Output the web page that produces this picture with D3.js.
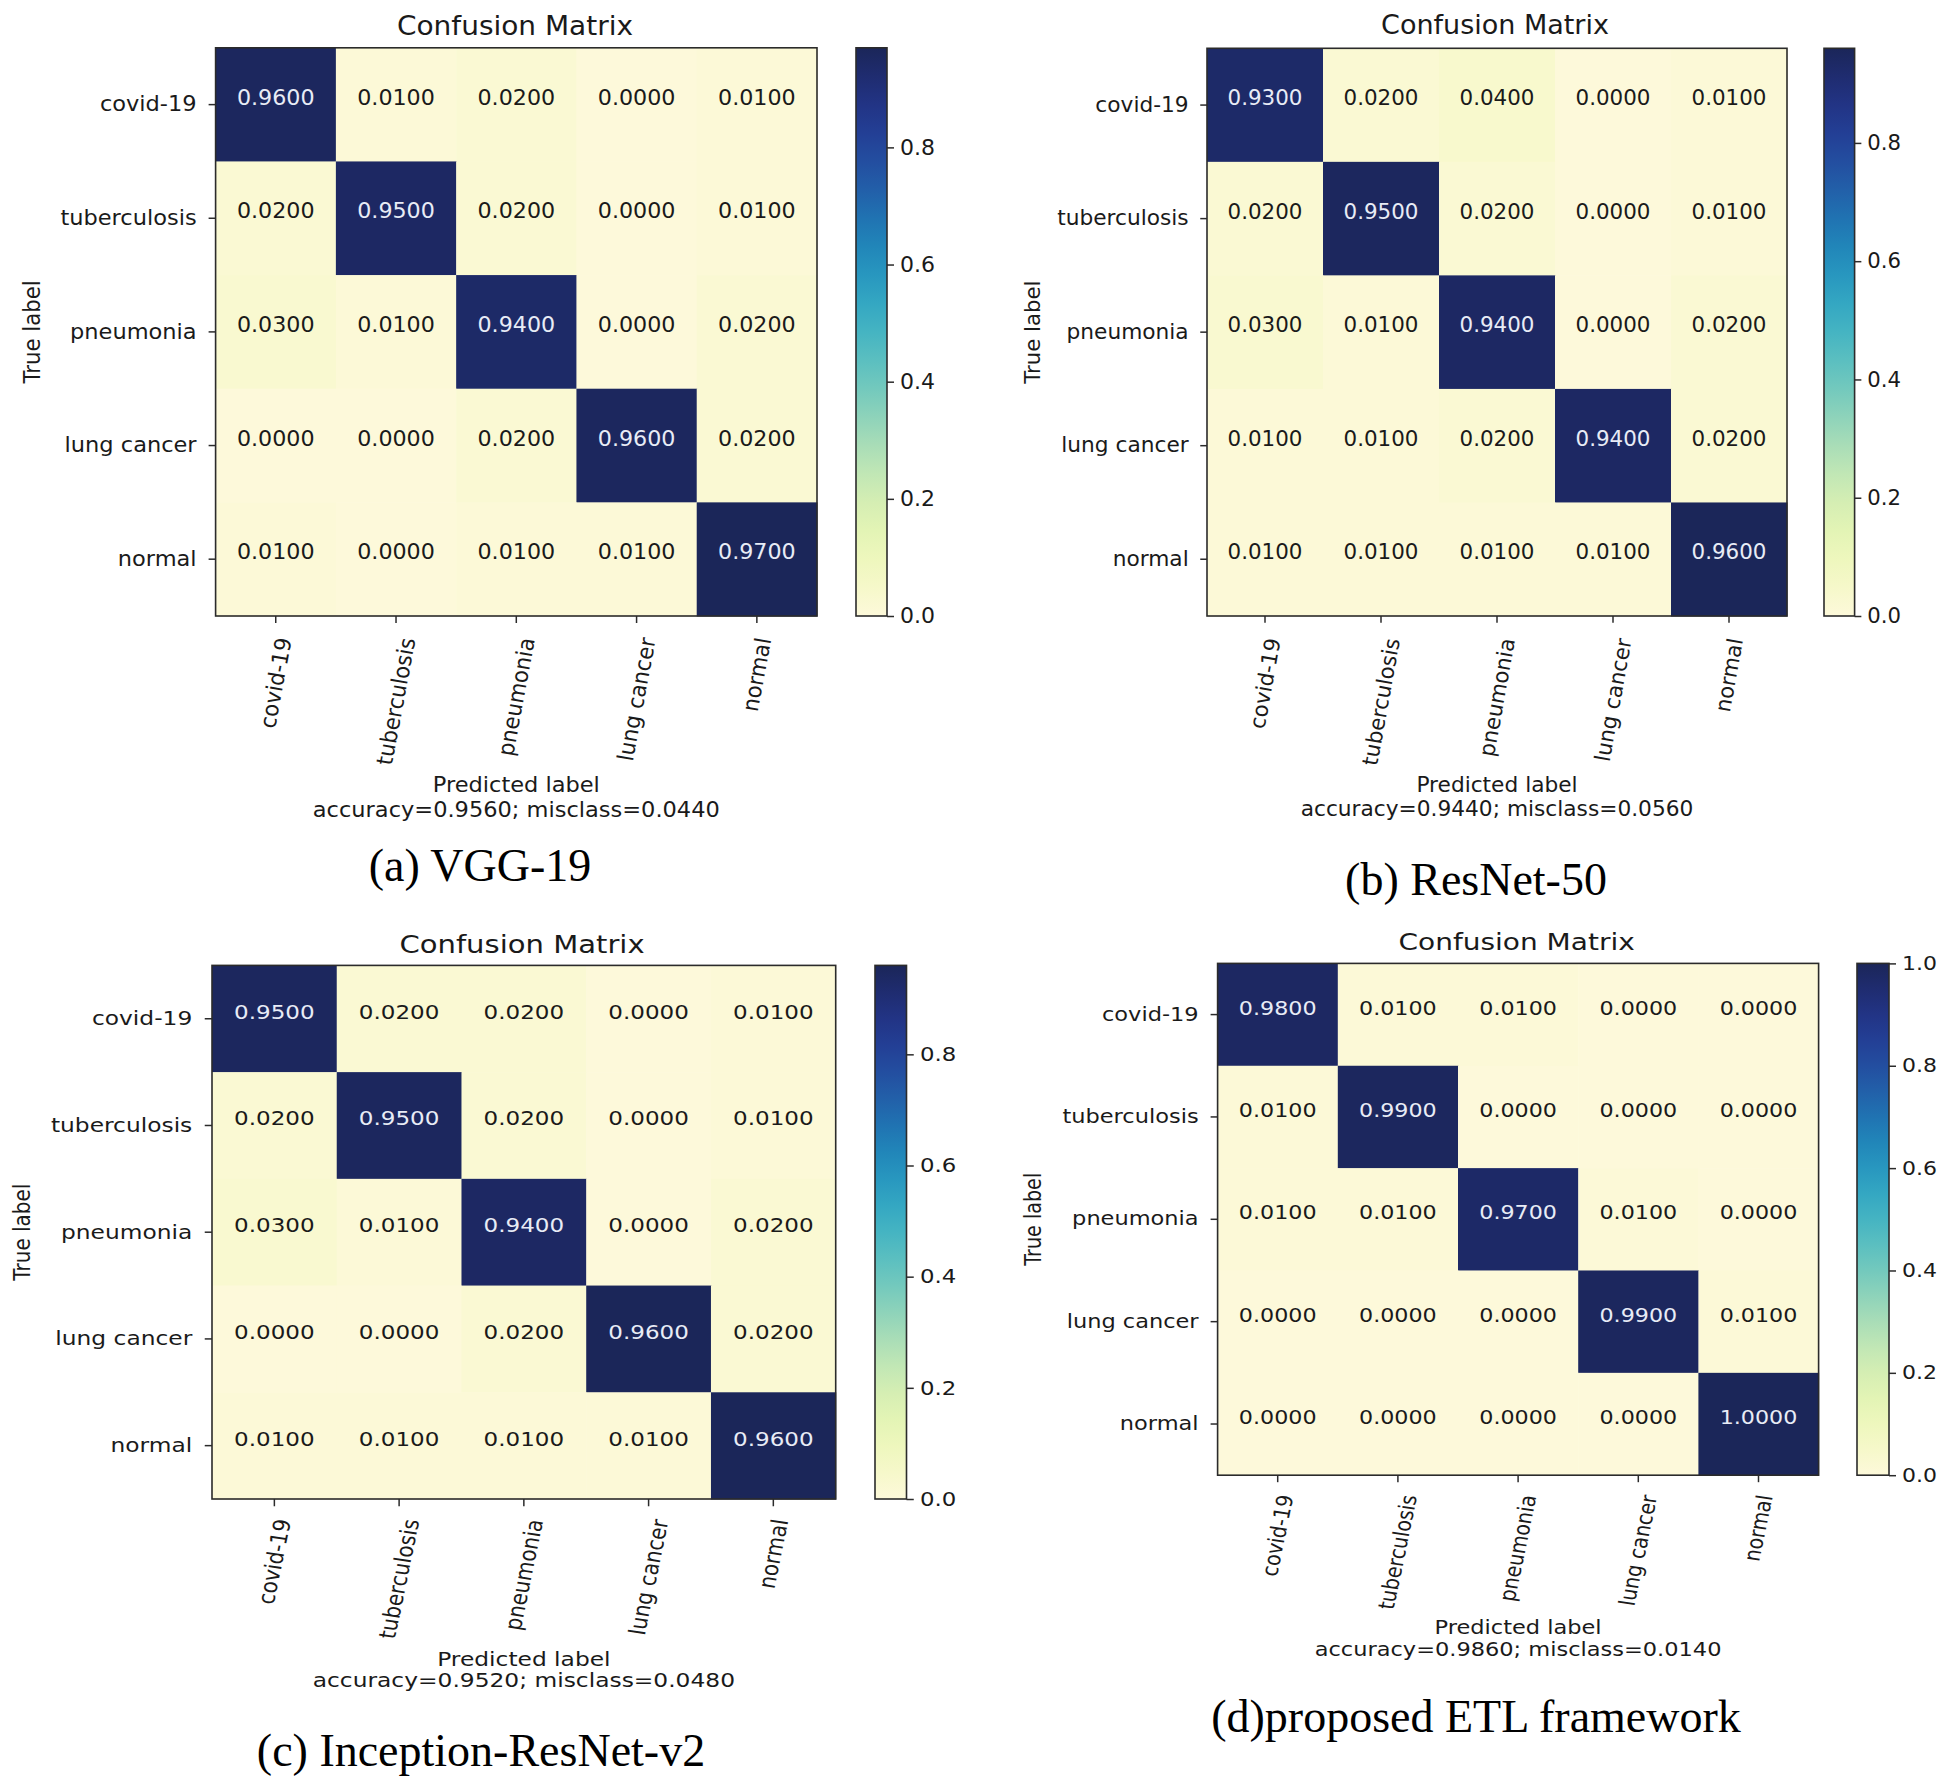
<!DOCTYPE html>
<html>
<head>
<meta charset="utf-8">
<script src="https://cdn.jsdelivr.net/npm/d3@7"></script>
<style>
  body { margin: 0; background: #fff; }
  svg { display: block; }
</style>
</head>
<body>
<svg id="chart" width="1945" height="1780"></svg>
<script>
const classes = ["covid-19", "tuberculosis", "pneumonia", "lung cancer", "normal"];

const vggValues = [
  [0.96, 0.01, 0.02, 0.00, 0.01],
  [0.02, 0.95, 0.02, 0.00, 0.01],
  [0.03, 0.01, 0.94, 0.00, 0.02],
  [0.00, 0.00, 0.02, 0.96, 0.02],
  [0.01, 0.00, 0.01, 0.01, 0.97]
];
const resnetValues = [
  [0.93, 0.02, 0.04, 0.00, 0.01],
  [0.02, 0.95, 0.02, 0.00, 0.01],
  [0.03, 0.01, 0.94, 0.00, 0.02],
  [0.01, 0.01, 0.02, 0.94, 0.02],
  [0.01, 0.01, 0.01, 0.01, 0.96]
];
const inceptionValues = [
  [0.95, 0.02, 0.02, 0.00, 0.01],
  [0.02, 0.95, 0.02, 0.00, 0.01],
  [0.03, 0.01, 0.94, 0.00, 0.02],
  [0.00, 0.00, 0.02, 0.96, 0.02],
  [0.01, 0.01, 0.01, 0.01, 0.96]
];
const etlValues = [
  [0.98, 0.01, 0.01, 0.00, 0.00],
  [0.01, 0.99, 0.00, 0.00, 0.00],
  [0.01, 0.01, 0.97, 0.01, 0.00],
  [0.00, 0.00, 0.00, 0.99, 0.01],
  [0.00, 0.00, 0.00, 0.00, 1.00]
];

const accuracy = [0.9560, 0.9440, 0.9520, 0.9860];
const misclass = [0.0440, 0.0560, 0.0480, 0.0140];
const captions = ["(a) VGG-19", "(b) ResNet-50", "(c) Inception-ResNet-v2", "(d)proposed ETL framework"];
const colorbarTicks = [
  [0, 0.2, 0.4, 0.6, 0.8],
  [0, 0.2, 0.4, 0.6, 0.8],
  [0, 0.2, 0.4, 0.6, 0.8],
  [0, 0.2, 0.4, 0.6, 0.8, 1.0]
];

// where each panel sits on the page
const panels = [
  { m: vggValues, x0: 215.6, x1: 817, y0: 47.8, y1: 616, cb0: 856, cb1: 887,
    titleX: 515, titleY: 25.5, trueX: 32, xlabGap: 20.5, predY: 784.5, accY: 810,
    capX: 480, capY: 865, fs: 1.0 },
  { m: resnetValues, x0: 1207, x1: 1787, y0: 48.3, y1: 616, cb0: 1824, cb1: 1854.6,
    titleX: 1495, titleY: 25, trueX: 1032.5, xlabGap: 21, predY: 785, accY: 808.7,
    capX: 1476, capY: 879, fs: 0.965 },
  { m: inceptionValues, x0: 212, x1: 835.7, y0: 965.4, y1: 1499, cb0: 875, cb1: 906.5,
    titleX: 522, titleY: 944, trueX: 22, xlabGap: 19, predY: 1659, accY: 1680.6,
    capX: 481, capY: 1750, fs: 1.038 },
  { m: etlValues, x0: 1217.6, x1: 1818.6, y0: 963.4, y1: 1475.2, cb0: 1857, cb1: 1889,
    titleX: 1516.6, titleY: 942, trueX: 1033, xlabGap: 18.5, predY: 1628, accY: 1650,
    capX: 1476, capY: 1716.5, fs: 1.0 }
];

const mplFont = "DejaVu Sans";
const ink = "#1a1a1a";
const svg = d3.select("#chart");
svg.append("rect").attr("width", 1945).attr("height", 1780).attr("fill", "#fff");
const defs = svg.append("defs");

// YlGnBu, warmed at the light end and lifted at the dark end like the scanned figure
const stops = d3.schemeYlGnBu[9].slice();
stops[0] = "#fdf9da";
stops[8] = "#1b2659";
const ylgnbu = d3.interpolateRgbBasis(stops);

panels.forEach((p, k) => {
  const vmax = d3.max(p.m.flat());
  const color = d3.scaleSequential(ylgnbu).domain([0, vmax]);
  const sy = (p.y1 - p.y0) / (p.x1 - p.x0);   // figures were squashed vertically
  const fTick = 22.5 * p.fs, fCell = 22.2 * p.fs, fTitle = 28 * p.fs;

  const x = d3.scaleBand().domain(classes).range([p.x0, p.x1]);
  const y = d3.scaleBand().domain(classes).range([p.y0, p.y1]);

  const g = svg.append("g").attr("font-family", mplFont).attr("fill", ink);

  // cells
  const cells = [];
  p.m.forEach((row, i) => row.forEach((v, j) => cells.push({ r: classes[i], c: classes[j], v })));

  g.selectAll(".cell").data(cells).join("rect")
    .attr("class", "cell")
    .attr("x", d => x(d.c))
    .attr("y", d => y(d.r))
    .attr("width", x.bandwidth() + 0.5)
    .attr("height", y.bandwidth() + 0.5)
    .attr("fill", d => color(d.v));

  g.selectAll(".val").data(cells).join("text")
    .attr("class", "val")
    .attr("transform", d => `translate(${x(d.c) + x.bandwidth() / 2},${y(d.r) + y.bandwidth() / 2}) scale(1,${sy})`)
    .attr("text-anchor", "middle")
    .attr("font-size", fCell)
    .attr("fill", d => d.v > vmax / 2 ? "#e8ecf6" : ink)
    .text(d => d.v.toFixed(4));

  g.append("rect")
    .attr("x", p.x0).attr("y", p.y0)
    .attr("width", p.x1 - p.x0).attr("height", p.y1 - p.y0)
    .attr("fill", "none").attr("stroke", "#2b2b2b").attr("stroke-width", 1.6);

  // y axis
  const gy = g.append("g")
    .attr("transform", `translate(${p.x0},0)`)
    .call(d3.axisLeft(y).tickSize(7 * p.fs).tickPadding(12 * p.fs));
  gy.select(".domain").remove();
  gy.selectAll(".tick line").attr("stroke", "#2b2b2b").attr("stroke-width", 1.5);
  gy.selectAll(".tick text")
    .attr("font-family", mplFont).attr("font-size", fTick).attr("fill", ink)
    .attr("transform", `scale(1,${sy})`);
  gy.attr("font-family", null).attr("font-size", null);

  // x axis with slanted labels
  const gx = g.append("g")
    .attr("transform", `translate(0,${p.y1})`)
    .call(d3.axisBottom(x).tickSize(7 * p.fs));
  gx.attr("font-family", null).attr("font-size", null);
  gx.select(".domain").remove();
  gx.selectAll(".tick line").attr("stroke", "#2b2b2b").attr("stroke-width", 1.5);
  gx.selectAll(".tick text")
    .attr("font-family", mplFont).attr("font-size", fTick).attr("fill", ink)
    .each(function () {
      const L = this.getComputedTextLength();
      d3.select(this)
        .attr("x", null).attr("y", null).attr("dy", null)
        .attr("text-anchor", "end")
        .attr("dominant-baseline", "central")
        .attr("transform", `translate(0,${p.xlabGap}) scale(1,${sy}) translate(${L * 0.0868},${fTick * 0.07}) rotate(-80)`);
    });

  // colorbar
  const gid = "cbar" + k;
  const grad = defs.append("linearGradient").attr("id", gid)
    .attr("x1", 0).attr("y1", 1).attr("x2", 0).attr("y2", 0);
  grad.selectAll("stop").data(d3.range(0, 1.0001, 0.05)).join("stop")
    .attr("offset", t => t)
    .attr("stop-color", t => color(t * vmax));

  g.append("rect")
    .attr("x", p.cb0).attr("y", p.y0)
    .attr("width", p.cb1 - p.cb0).attr("height", p.y1 - p.y0)
    .attr("fill", `url(#${gid})`).attr("stroke", "#2b2b2b").attr("stroke-width", 1.6);

  const cbScale = d3.scaleLinear().domain([0, vmax]).range([p.y1, p.y0]);
  const gc = g.append("g")
    .attr("transform", `translate(${p.cb1},0)`)
    .call(d3.axisRight(cbScale).tickValues(colorbarTicks[k]).tickFormat(d3.format(".1f"))
      .tickSize(7 * p.fs).tickPadding(6 * p.fs));
  gc.attr("font-family", null).attr("font-size", null);
  gc.select(".domain").remove();
  gc.selectAll(".tick line").attr("stroke", "#2b2b2b").attr("stroke-width", 1.5);
  gc.selectAll(".tick text")
    .attr("font-family", mplFont).attr("font-size", 22 * p.fs).attr("fill", ink)
    .attr("transform", `scale(1,${sy})`);

  // titles and axis labels
  const cx = (p.x0 + p.x1) / 2, cy = (p.y0 + p.y1) / 2;
  g.append("text")
    .attr("transform", `translate(${p.titleX},${p.titleY}) scale(1,${sy})`)
    .attr("text-anchor", "middle").attr("dominant-baseline", "central")
    .attr("font-size", fTitle).text("Confusion Matrix");

  g.append("text")
    .attr("transform", `translate(${p.trueX},${cy}) scale(1,${sy}) rotate(-90)`)
    .attr("text-anchor", "middle").attr("dominant-baseline", "central")
    .attr("font-size", fTick).text("True label");

  g.append("text")
    .attr("transform", `translate(${cx},${p.predY}) scale(1,${sy})`)
    .attr("text-anchor", "middle").attr("dominant-baseline", "central")
    .attr("font-size", fTick).text("Predicted label");

  g.append("text")
    .attr("transform", `translate(${cx},${p.accY}) scale(1,${sy})`)
    .attr("text-anchor", "middle").attr("dominant-baseline", "central")
    .attr("font-size", fTick)
    .text(`accuracy=${accuracy[k].toFixed(4)}; misclass=${misclass[k].toFixed(4)}`);

  // figure caption
  svg.append("text")
    .attr("x", p.capX).attr("y", p.capY)
    .attr("text-anchor", "middle").attr("dominant-baseline", "central")
    .attr("font-family", "Liberation Serif, Times New Roman, serif")
    .attr("font-size", 46).attr("fill", "#000")
    .text(captions[k]);
});
</script>
</body>
</html>
